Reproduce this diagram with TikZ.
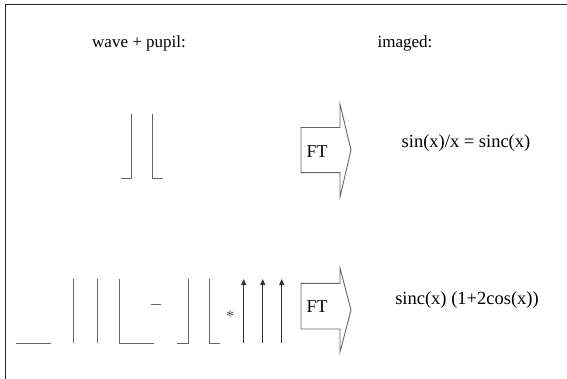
\documentclass[tikz,border=0pt]{standalone}
\usepackage{fontspec}
\setmainfont{Liberation Serif}
\usetikzlibrary{arrows.meta}
\begin{document}
\begin{tikzpicture}[x=1pt,y=-1pt,
  frame/.style={draw=black!85,line width=1.6pt},
  ln/.style={draw=black!60,line width=0.9pt},
  ftarrow/.style={draw=black!60,line width=0.9pt,fill=white},
  lbl/.style={font=\fontsize{17}{20}\selectfont,inner sep=0pt},
  eq/.style={font=\fontsize{18.5}{22}\selectfont,inner sep=0pt},
  deltaarrow/.style={draw=black!80,line width=0.9pt,-{Triangle[width=5pt,length=6pt]}}]
\useasboundingbox (0,0) rectangle (567,379);
\fill[white] (0,0) rectangle (567,379);
% frame (top and left)
\draw[frame] (567,4.5) -- (5.5,4.5) -- (5.5,379);
% headers
\node[lbl] (hwave) at (139,43) {wave + pupil:};
\node[lbl] (himg) at (405,43) {imaged:};
% top pupil
\draw[ln] (121,178) -- (131.7,178) -- (131.7,114);
\draw[ln] (152.7,114) -- (152.7,178) -- (163,178);
% top FT arrow
\draw[ftarrow] (301,127.5) -- (340,127.5) -- (340,104) -- (351,150) -- (340,197) -- (340,172.7) -- (301,172.7) -- cycle;
\node[lbl,font=\fontsize{18}{20}\selectfont] (ft1) at (317,152) {FT};
\node[eq] (r1) at (466,143) {sin(x)/x = sinc(x)};
% bottom row
\draw[ln] (16,343) -- (51,343);
\draw[ln] (73.3,279) -- (73.3,343);
\draw[ln] (97.3,279) -- (97.3,343);
\draw[ln] (119.3,279) -- (119.3,343) -- (154,343);
\draw[ln] (150.7,304.3) -- (160.7,304.3);
\draw[ln] (177.3,343) -- (188.3,343) -- (188.3,279);
\draw[ln] (209.3,279) -- (209.3,343) -- (220,343);
\node[inner sep=0pt,font=\fontsize{16}{16}\selectfont,text=black!70] (star) at (230,316) {*};
\coordinate (a1b) at (243.7,343); \coordinate (a1t) at (243.7,279);
\coordinate (a2b) at (262.7,343); \coordinate (a2t) at (262.7,279);
\coordinate (a3b) at (281.7,343); \coordinate (a3t) at (281.7,279);
\draw[deltaarrow] (a1b) -- (a1t);
\draw[deltaarrow] (a2b) -- (a2t);
\draw[deltaarrow] (a3b) -- (a3t);
% bottom FT arrow
\draw[ftarrow] (301,283.3) -- (340,283.3) -- (340,268) -- (351,310) -- (340,352) -- (340,329) -- (301,329) -- cycle;
\node[lbl,font=\fontsize{18}{20}\selectfont] (ft2) at (317,307) {FT};
\node[eq] (r2) at (467,300) {sinc(x) (1+2cos(x))};
\end{tikzpicture}
\end{document}
